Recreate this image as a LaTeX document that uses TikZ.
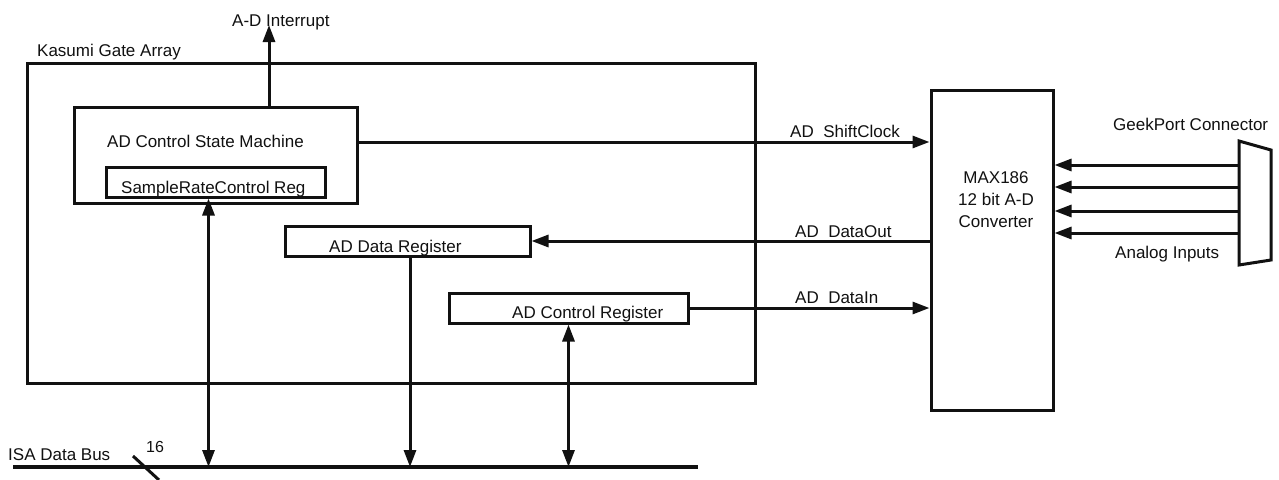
\documentclass[tikz,border=0pt]{standalone}
\usepackage{fontspec}
\setmainfont{Liberation Sans}
\usetikzlibrary{arrows.meta,positioning}

\definecolor{inkcolor} {HTML}{111111}
\definecolor{pagebg}   {HTML}{FFFFFF}

\tikzset{
  block/.style={
    rectangle, draw=inkcolor, line width=3pt,
    inner sep=0pt
  },
  sig/.style={draw=inkcolor, line width=3pt},
  tip/.style={-{Triangle[length=17pt,width=12pt]}},
  tips/.style={{Triangle[length=17pt,width=12pt]}-{Triangle[length=17pt,width=12pt]}},
  lbl/.style={font=\fontsize{17}{22}\selectfont, text=inkcolor, inner sep=0pt},
  buslbl/.style={font=\fontsize{16}{18}\selectfont, text=inkcolor, inner sep=0pt}
}

\begin{document}
\begin{tikzpicture}[x=1pt,y=-1pt]
\useasboundingbox[fill=pagebg] (0,0) rectangle (1279,479);

%% ── Gate array ───────────────────────────────────────────────
\node[block, minimum width=728pt, minimum height=320pt] (kasumi) at (391,223) {};
\node[lbl, anchor=base west] (kasumilbl) at (37,56) {Kasumi Gate Array};

\node[block, minimum width=283pt, minimum height=96pt] (fsm) at (215.5,155) {};
\node[lbl, anchor=base west] (fsmlbl) at (107,147) {AD Control State Machine};
\node[block, minimum width=219pt, minimum height=30pt] (rate) at (215.5,182) {};
\node[lbl, anchor=base west] (ratelbl) at (121,193) {SampleRateControl Reg};

\node[block, minimum width=245pt, minimum height=30pt] (datareg) at (407.5,241) {};
\node[lbl, anchor=base west] (datalbl) at (329,252) {AD Data Register};
\node[block, minimum width=239pt, minimum height=30pt] (ctrlreg) at (568.5,308) {};
\node[lbl, anchor=base west] (ctrllbl) at (512,318) {AD Control Register};

%% ── Converter and connector ──────────────────────────────────
\node[block, minimum width=122pt, minimum height=320pt] (max) at (992,250) {};
\node[lbl, align=center] (maxlbl) at (996,200) {MAX186\\12 bit A-D\\Converter};

\coordinate (geekNW) at (1239,141);
\coordinate (geekNE) at (1271,150);
\coordinate (geekSE) at (1271,260);
\coordinate (geekSW) at (1239,265);
\draw[sig] (geekNW) -- (geekNE) -- (geekSE) -- (geekSW) -- cycle;
\node[lbl, anchor=base west] (geeklbl) at (1113,130) {GeekPort Connector};
\node[lbl, anchor=base west] (analoglbl) at (1115,258) {Analog Inputs};

\foreach \y in {165,187,211,233}
  \draw[sig,tip] (geekNW |- 0,\y) -- (max.east |- 0,\y);

%% ── Signals ──────────────────────────────────────────────────
\coordinate (irq) at (269,25);
\draw[sig,tip] (fsm.north -| irq) -- (irq);
\node[lbl, anchor=base west] (irqlbl) at (232,26) {A-D Interrupt};

\draw[sig,tip] ([yshift=13pt]fsm.east) -- ([yshift=13pt]fsm.east -| max.west);
\node[lbl, anchor=base west] (clklbl) at (790,137) {AD\ \ ShiftClock};

\draw[sig,tip] (max.west |- datareg.east) -- (datareg.east);
\node[lbl, anchor=base west] (outlbl) at (795,237) {AD\ \ DataOut};

\draw[sig,tip] (ctrlreg.east) -- (ctrlreg.east -| max.west);
\node[lbl, anchor=base west] (inlbl) at (795,303) {AD\ \ DataIn};

%% ── ISA bus ──────────────────────────────────────────────────
\coordinate (busL) at (13,467);
\coordinate (busR) at (698,467);
\draw[sig, line width=3.5pt] (busL) -- (busR);
\coordinate (slashA) at (133,456);
\coordinate (slashB) at (159,480);
\draw[sig] (slashA) -- (slashB);
\node[lbl, anchor=base west] (buslbl) at (8,460) {ISA Data Bus};
\node[buslbl, anchor=base west] (widthlbl) at (146,452) {16};

\draw[sig,tips] ([xshift=-7pt]rate.south) -- ([xshift=-7pt]rate.south |- busL);
\draw[sig,tip] ([xshift=2.5pt]datareg.south) -- ([xshift=2.5pt]datareg.south |- busL);
\draw[sig,tips] (ctrlreg.south) -- (ctrlreg.south |- busL);
\end{tikzpicture}
\end{document}
